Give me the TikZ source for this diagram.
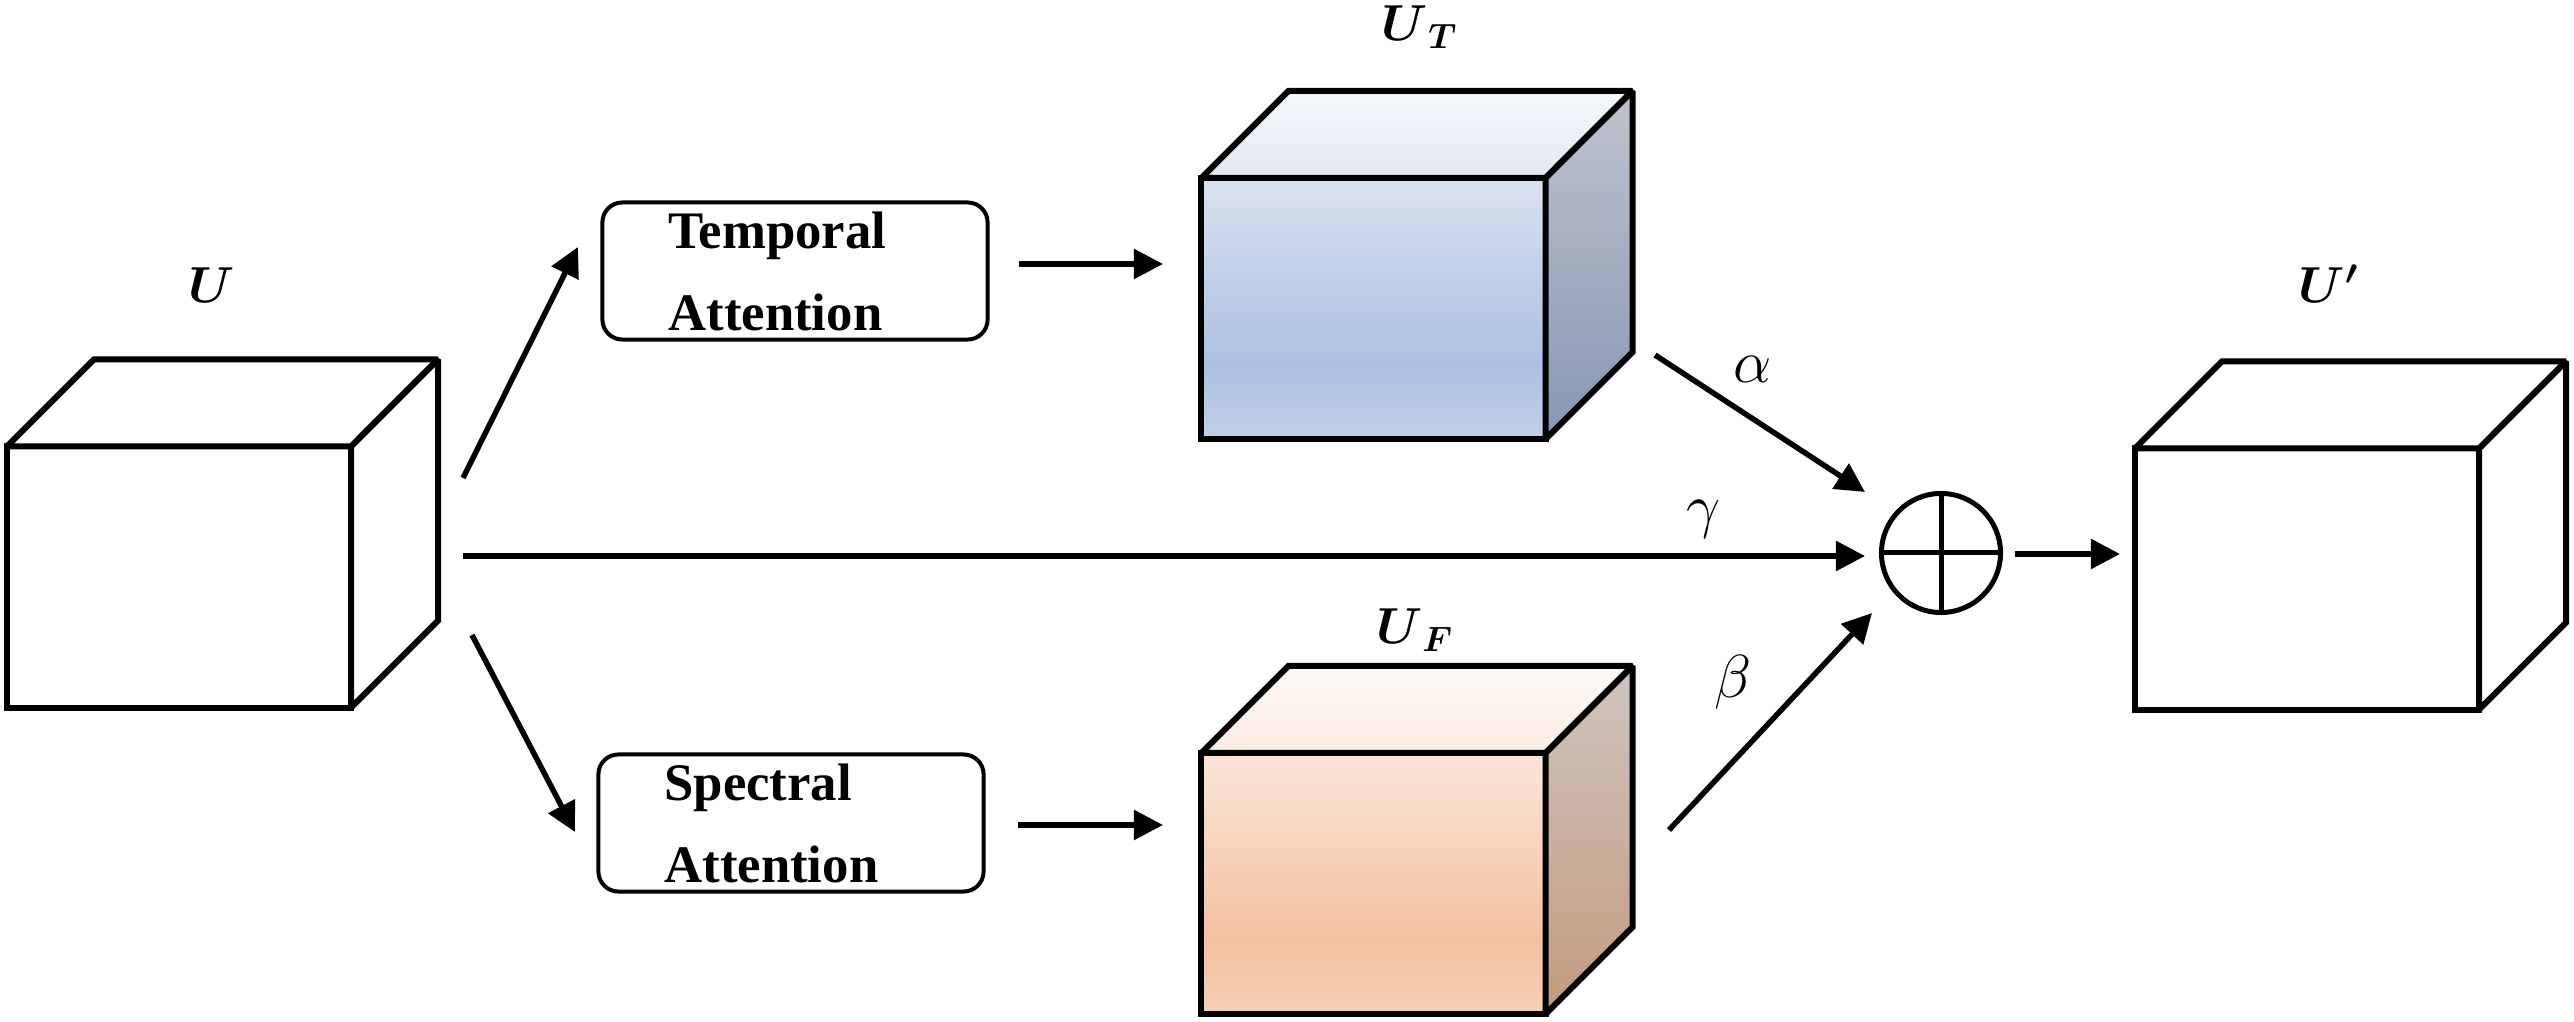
\documentclass[tikz,border=0pt]{standalone}
\usepackage{fontspec}
\usepackage{amsmath,bm}
\newfontfamily\tnr{Liberation Serif}
\usetikzlibrary{arrows.meta,calc}
% blue cube colours
\definecolor{tfT}{HTML}{DAE2F1}\definecolor{tfM}{HTML}{ABC0E1}\definecolor{tfB}{HTML}{C2D1E9}
\definecolor{ttT}{HTML}{F6F8FC}\definecolor{ttB}{HTML}{E2E8F4}
\definecolor{tsT}{HTML}{BFC3CC}\definecolor{tsB}{HTML}{8797B4}
% orange cube colours
\definecolor{ffT}{HTML}{FAE5D8}\definecolor{ffM}{HTML}{F4C1A1}\definecolor{ffB}{HTML}{F6D0B6}
\definecolor{ftT}{HTML}{FEF9F6}\definecolor{ftB}{HTML}{FBEBE1}
\definecolor{fsT}{HTML}{CEC4BF}\definecolor{fsB}{HTML}{C49B7E}
\pgfdeclareverticalshading{tfront}{100bp}{color(0bp)=(tfB); color(25bp)=(tfB); color(39bp)=(tfM); color(75bp)=(tfT); color(100bp)=(tfT)}
\pgfdeclareverticalshading{ttop}{100bp}{color(0bp)=(ttB); color(25bp)=(ttB); color(75bp)=(ttT); color(100bp)=(ttT)}
\pgfdeclareverticalshading{tside}{100bp}{color(0bp)=(tsB); color(25bp)=(tsB); color(75bp)=(tsT); color(100bp)=(tsT)}
\pgfdeclareverticalshading{ffront}{100bp}{color(0bp)=(ffB); color(25bp)=(ffB); color(39bp)=(ffM); color(75bp)=(ffT); color(100bp)=(ffT)}
\pgfdeclareverticalshading{ftop}{100bp}{color(0bp)=(ftB); color(25bp)=(ftB); color(75bp)=(ftT); color(100bp)=(ftT)}
\pgfdeclareverticalshading{fside}{100bp}{color(0bp)=(fsB); color(25bp)=(fsB); color(75bp)=(fsT); color(100bp)=(fsT)}
\begin{document}
\begin{tikzpicture}[x=0.01cm,y=-0.01cm,
  face/.style={draw=black, line width=1.71pt, line join=miter, miter limit=1.5},
  front/.style={face, rectangle, minimum width=3.44cm, minimum height=2.61cm, inner sep=0pt, outer sep=0pt},
  arr/.style={line width=1.56pt, -{Triangle[length=8.3pt,width=8.3pt]}},
  attbox/.style={draw, line width=1.14pt, rounded corners=0.2cm, align=left, text width=2.53cm,
     inner xsep=0.66cm, inner ysep=0pt, minimum height=1.37cm,
     font={\tnr\bfseries\fontsize{15}{23.3}\selectfont}},
  lab/.style={font=\fontsize{14.5}{17}\selectfont, inner sep=0pt},
  glab/.style={font=\fontsize{18}{21}\selectfont, inner sep=0pt}]
\useasboundingbox (0,0) rectangle (2574,1022);

% ---- cube U
\node[front, fill=white] (U) at (179,577) {};
\draw[face, fill=white] (U.north west) -- ++(87,-87) -- ++(344,0) -- (U.north east) -- cycle;
\draw[face, fill=white] (U.north east) -- ++(87,-87) -- ++(0,261) -- (U.south east) -- cycle;
\node[lab, anchor=base] (lU) at (212,303) {$\bm{U}$};

% ---- cube U_T
\node[front, shading=tfront] (UT) at (1373.5,308.5) {};
\draw[face, shading=ttop] (UT.north west) -- ++(87,-87) -- ++(344,0) -- (UT.north east) -- cycle;
\draw[face, shading=tside] (UT.north east) -- ++(87,-87) -- ++(0,261) -- (UT.south east) -- cycle;
\node[lab, anchor=base] (lUT) at (1420,41) {$\bm{U}_{\,\bm{T}}$};

% ---- cube U_F
\node[front, shading=ffront] (UF) at (1373.5,883.5) {};
\draw[face, shading=ftop] (UF.north west) -- ++(87,-87) -- ++(344,0) -- (UF.north east) -- cycle;
\draw[face, shading=fside] (UF.north east) -- ++(87,-87) -- ++(0,261) -- (UF.south east) -- cycle;
\node[lab, anchor=base] (lUF) at (1415,644) {$\bm{U}_{\,\bm{F}}$};

% ---- cube U'
\node[front, fill=white] (Up) at (2307,579) {};
\draw[face, fill=white] (Up.north west) -- ++(87,-87) -- ++(344,0) -- (Up.north east) -- cycle;
\draw[face, fill=white] (Up.north east) -- ++(87,-87) -- ++(0,261) -- (Up.south east) -- cycle;
\node[lab, anchor=base] (lUp) at (2329,303) {$\bm{U'}$};

% ---- attention boxes
\node[attbox] (tbox) at (795,271) {Temporal\\Attention};
\node[attbox] (sbox) at (791,823) {Spectral\\Attention};

% ---- sum node
\node[circle, draw, line width=1.42pt, minimum size=1.19cm, inner sep=0pt, outer sep=0pt] (plus) at (1941,553) {};
\draw[line width=1.42pt] (plus.north) -- (plus.south) (plus.west) -- (plus.east);

% ---- ports
\coordinate (pUa) at (463,478);
\coordinate (pTa) at (578,247);
\coordinate (pUb) at (472,635);
\coordinate (pSa) at (575,832);
\coordinate (pUc) at (463,556);
\coordinate (pPg) at (1865,556);
\coordinate (pTo) at (1019,264);
\coordinate (pUTi) at (1163,264);
\coordinate (pSo) at (1018,825);
\coordinate (pUFi) at (1163,825);
\coordinate (pUTo) at (1655,355);
\coordinate (pPa) at (1865,492);
\coordinate (pUFo) at (1669,830);
\coordinate (pPb) at (1872,613);
\coordinate (pPo) at (2015,554);
\coordinate (pUpi) at (2120,554);

% ---- connectors
\draw[arr] (pUa) -- (pTa);
\draw[arr] (pUb) -- (pSa);
\draw[arr] (pUc) -- (pPg);
\draw[arr] (pTo) -- (pUTi);
\draw[arr] (pSo) -- (pUFi);
\draw[arr] (pUTo) -- (pPa);
\draw[arr] (pUFo) -- (pPb);
\draw[arr] (pPo) -- (pUpi);

% ---- weights
\node[glab] (la) at (1753,369) {$\alpha$};
\node[glab] (lg) at (1704,519) {$\gamma$};
\node[glab] (lb) at (1733,682) {$\beta$};
\end{tikzpicture}
\end{document}
